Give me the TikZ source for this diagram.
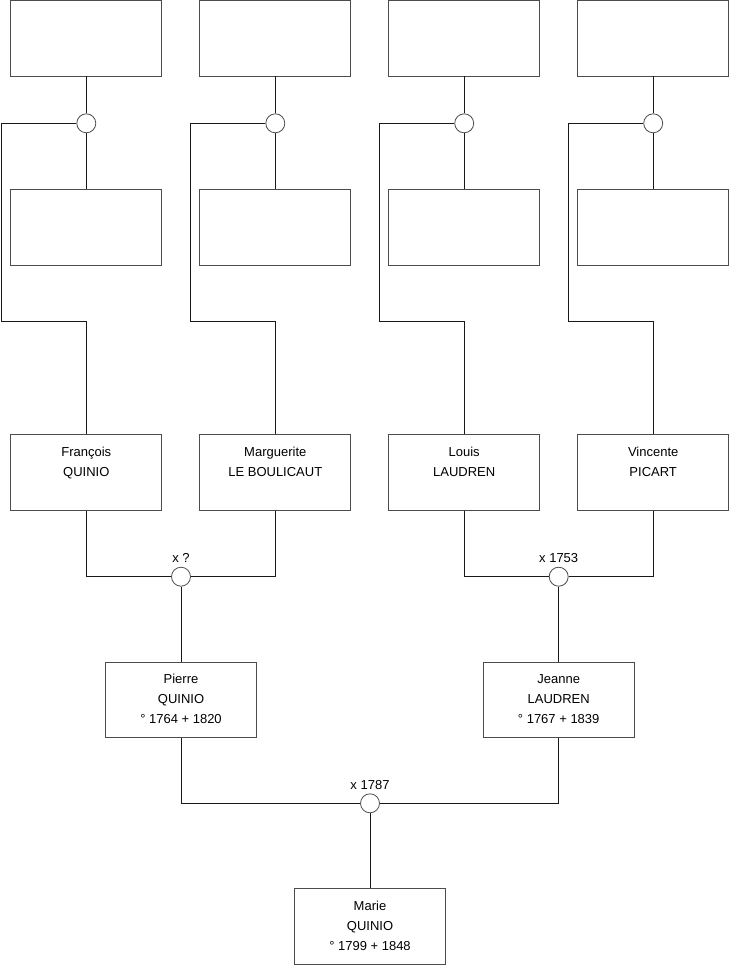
\documentclass[tikz,border=0pt]{standalone}
\usepackage{fontspec}
\setmainfont{Liberation Sans}
\usetikzlibrary{positioning, calc}

% trois lignes de fiche, toutes avec un strut
\newcommand{\fiche}[3]{\strut #1\\ \strut #2\\ \strut #3}

\begin{document}
\begin{tikzpicture}[
    x=1pt, y=-1pt,
    font=\fontsize{13}{20}\selectfont,
    % --- styles des boites ---
    pers/.style  = {rectangle, minimum width=151pt, minimum height=75.5pt,
                    align=center, inner sep=0pt,
                    draw=black!70, line width=0.8pt},
    union/.style = {circle, minimum size=19pt, inner sep=0pt,
                    draw=black!70, fill=white, line width=0.8pt},
    lnk/.style   = {line width=0.8pt, draw=black!90},
    lbl/.style   = {inner sep=1pt}
]
\useasboundingbox (0,0) rectangle (740,975);

% ===================== RANG DU HAUT (vides) =====================
\node[pers] (haut1) at (86.3,38.3)  {};
\node[pers] (haut2) at (275.3,38.3) {};
\node[pers] (haut3) at (464.2,38.3) {};
\node[pers] (haut4) at (653.2,38.3) {};

\node[union] (u1) at (86.3,123.3)  {};
\node[union] (u2) at (275.3,123.3) {};
\node[union] (u3) at (464.2,123.3) {};
\node[union] (u4) at (653.2,123.3) {};

\node[pers] (mil1) at (86.3,227.2)  {};
\node[pers] (mil2) at (275.3,227.2) {};
\node[pers] (mil3) at (464.2,227.2) {};
\node[pers] (mil4) at (653.2,227.2) {};

% ===================== GRANDS-PARENTS =====================
\node[pers] (francois)   at (86.3,472.5)  {\fiche{François}{QUINIO}{}};
\node[pers] (marguerite) at (275.3,472.5) {\fiche{Marguerite}{LE BOULICAUT}{}};
\node[pers] (louis)      at (464.2,472.5) {\fiche{Louis}{LAUDREN}{}};
\node[pers] (vincente)   at (653.2,472.5) {\fiche{Vincente}{PICART}{}};

\node[union] (u5) at (181,576.7)   {};
\node[union] (u6) at (558.7,576.7) {};
\node[lbl, above=3pt of u5] (m5) {x ?};
\node[lbl, above=3pt of u6] (m6) {x 1753};

% ===================== PARENTS =====================
\node[pers] (pierre) at (181,699.7)   {\fiche{Pierre}{QUINIO}{° 1764 + 1820}};
\node[pers] (jeanne) at (558.7,699.7) {\fiche{Jeanne}{LAUDREN}{° 1767 + 1839}};

\node[union] (u7) at (370,803.3) {};
\node[lbl, above=3pt of u7] (m7) {x 1787};

\node[pers] (marie) at (370,926.2) {\fiche{Marie}{QUINIO}{° 1799 + 1848}};

% ===================== LIENS DU HAUT =====================
\coordinate (k1) at (1.7,321.7);
\coordinate (k2) at (190.5,321.7);
\coordinate (k3) at (379.5,321.7);
\coordinate (k4) at (568.5,321.7);

\draw[lnk] (haut1) -- (u1);
\draw[lnk] (haut2) -- (u2);
\draw[lnk] (haut3) -- (u3);
\draw[lnk] (haut4) -- (u4);
\draw[lnk] (u1) -- (mil1);
\draw[lnk] (u2) -- (mil2);
\draw[lnk] (u3) -- (mil3);
\draw[lnk] (u4) -- (mil4);

\draw[lnk] (u1.west) -| (k1) -| (francois.north);
\draw[lnk] (u2.west) -| (k2) -| (marguerite.north);
\draw[lnk] (u3.west) -| (k3) -| (louis.north);
\draw[lnk] (u4.west) -| (k4) -| (vincente.north);

% ===================== MARIAGES =====================
\draw[lnk] (francois.south)   |- (u5.west);
\draw[lnk] (marguerite.south) |- (u5.east);
\draw[lnk] (u5) -- (pierre);

\draw[lnk] (louis.south)    |- (u6.west);
\draw[lnk] (vincente.south) |- (u6.east);
\draw[lnk] (u6) -- (jeanne);

\draw[lnk] (pierre.south) |- (u7.west);
\draw[lnk] (jeanne.south) |- (u7.east);
\draw[lnk] (u7) -- (marie);

\end{tikzpicture}
\end{document}
